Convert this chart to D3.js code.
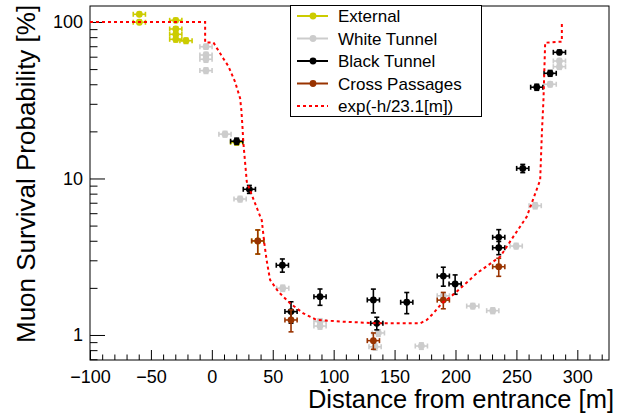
<!DOCTYPE html>
<html>
<head>
<meta charset="utf-8">
<script src="https://cdn.jsdelivr.net/npm/d3@7"></script>
<style>
  body { margin: 0; background: #fff; }
  text { font-family: "Liberation Sans", Arial, sans-serif; fill: #000; }
</style>
</head>
<body>
<div id="chart"></div>
<script>
(function(){
  // Distance [m], survival probability [%], vertical error [%]
  const externalDist = [-59.5, -59.5, -29.6, -29.6, -29.6, -29.6, -21.2, 20.4, 37.7];
  const externalProb = [112, 99.6, 102.5, 90.2, 83.4, 77.5, 75.9, 17.0, 3.99];
  const externalErr  = [3, 3, 3, 3, 3, 3, 3, 0.6, 0.7];

  const whiteDist = [-4.8, -4.8, -4.8, -4.8, 10.8, 23.2, 58.2, 88.8, 88.8, 136.7, 134, 172, 190, 214.2, 230.6, 249.8, 265.4, 277.7, 285.3, 285.3];
  const whiteProb = [69.5, 61.5, 57.8, 48.9, 19.2, 7.39, 1.99, 1.22, 1.14, 1.03, 0.84, 0.85, 1.78, 1.53, 1.43, 3.70, 6.70, 40, 56.3, 51.8];
  const whiteErr  = [2.5, 2.5, 2.5, 2, 0.8, 0.3, 0.09, 0.05, 0.05, 0.05, 0.04, 0.04, 0.08, 0.06, 0.06, 0.15, 0.3, 1.5, 2, 2];

  const blackDist = [20.4, 30.8, 57.9, 65, 88.8, 132.6, 135.4, 160, 190, 199.7, 235.5, 235.5, 255.2, 266.7, 277.7, 285.3];
  const blackProb = [17.3, 8.53, 2.79, 1.41, 1.757, 1.674, 1.188, 1.618, 2.38, 2.12, 4.21, 3.61, 11.6, 38.3, 47, 64];
  const blackErr  = [0.8, 0.5, 0.27, 0.22, 0.21, 0.29, 0.11, 0.25, 0.33, 0.3, 0.5, 0.35, 0.7, 1.7, 2, 2];

  const crossDist = [37.7, 65, 132.6, 190, 235.5];
  const crossProb = [3.99, 1.247, 0.92, 1.67, 2.73];
  const crossErr  = [0.7, 0.2, 0.11, 0.2, 0.36];

  const distErr = 5;

  // exp(-h/23.1[m]) along the tunnel
  const expDist = [-100, -5.5, -5.5, 1.3, 4, 9.4, 13.5, 19, 23.2, 24.3, 25.2, 25.9, 28.7, 35.5, 41, 43, 45, 47.8, 54.6, 64.2, 75.1, 86.1, 108, 135.4, 171, 176.4, 181.9, 188.8, 199.7, 217.5, 236.6, 247.5, 258.5, 269.5, 270.9, 272.2, 273.6, 287.3, 287.3];
  const expProb = [100, 100, 74, 74, 68.3, 58.5, 52.3, 41.6, 32.6, 27, 21, 16.8, 9.53, 6.93, 5.4, 3.9, 3.0, 2.25, 1.89, 1.594, 1.376, 1.247, 1.216, 1.188, 1.188, 1.247, 1.376, 1.594, 1.85, 2.48, 3.16, 4.25, 5.70, 9.78, 19.5, 31.7, 73.7, 74.9, 100];

  const xTicks = [-100, -50, 0, 50, 100, 150, 200, 250, 300];
  const yTicks = [1, 10, 100];

  const series = [
    { name: "White Tunnel", color: "#cccccc", dist: whiteDist, prob: whiteProb, err: whiteErr },
    { name: "External", color: "#cccc00", dist: externalDist, prob: externalProb, err: externalErr },
    { name: "Black Tunnel", color: "#000000", dist: blackDist, prob: blackProb, err: blackErr },
    { name: "Cross Passages", color: "#993300", dist: crossDist, prob: crossProb, err: crossErr }
  ];
  const legendOrder = ["External", "White Tunnel", "Black Tunnel", "Cross Passages"];

  const W = 628, H = 418;
  const frame = { left: 90, right: 609, top: 6, bottom: 360 };

  const svg = d3.select("#chart")
    .append("svg")
    .attr("width", W)
    .attr("height", H);

  const x = d3.scaleLinear().domain([-100, 326]).range([frame.left, frame.right]);
  const y = d3.scaleLog().domain([0.692, 126.5]).range([frame.bottom, frame.top]);

  // minor ticks
  const xMinor = d3.range(-100, 330, 10).filter(v => v % 50 !== 0);
  const yMinor = [0.7, 0.8, 0.9, 2, 3, 4, 5, 6, 7, 8, 9, 20, 30, 40, 50, 60, 70, 80, 90];

  svg.append("g")
    .attr("transform", `translate(0,${frame.bottom})`)
    .call(d3.axisBottom(x).tickValues(xTicks).tickSize(-10).tickPadding(10)
      .tickFormat(d => d < 0 ? "\u2212" + Math.abs(d) : d));
  svg.append("g")
    .attr("transform", `translate(0,${frame.bottom})`)
    .call(d3.axisBottom(x).tickValues(xMinor).tickSize(-5.5).tickFormat(""));

  svg.append("g")
    .attr("transform", `translate(${frame.left},0)`)
    .call(d3.axisLeft(y).tickValues(yTicks).tickSize(-15).tickPadding(7)
      .tickFormat(d3.format("d")));
  svg.append("g")
    .attr("transform", `translate(${frame.left},0)`)
    .call(d3.axisLeft(y).tickValues(yMinor).tickSize(-7.5).tickFormat(""));

  svg.selectAll(".domain").remove();
  svg.selectAll(".tick line").attr("stroke", "#000");
  svg.selectAll(".tick text").style("font-size", "18px");

  svg.append("rect")
    .attr("x", frame.left)
    .attr("y", frame.top)
    .attr("width", frame.right - frame.left)
    .attr("height", frame.bottom - frame.top)
    .attr("fill", "none")
    .attr("stroke", "#000")
    .attr("stroke-width", 1);

  // points with error bars
  const cap = 2.5;
  series.forEach(s => {
    const pts = s.dist.map((d, i) => ({ d: d, p: s.prob[i], e: s.err[i] }));
    const g = svg.append("g").attr("stroke", s.color).attr("fill", s.color).attr("stroke-width", 1.6);
    pts.forEach(pt => {
      const cx = x(pt.d), cy = y(pt.p);
      const x0 = x(pt.d - distErr), x1 = x(pt.d + distErr);
      const y0 = y(pt.p - pt.e), y1 = y(pt.p + pt.e);
      g.append("line").attr("x1", x0).attr("x2", x1).attr("y1", cy).attr("y2", cy);
      g.append("line").attr("x1", cx).attr("x2", cx).attr("y1", y0).attr("y2", y1);
      g.append("line").attr("x1", x0).attr("x2", x0).attr("y1", cy - cap).attr("y2", cy + cap);
      g.append("line").attr("x1", x1).attr("x2", x1).attr("y1", cy - cap).attr("y2", cy + cap);
      g.append("line").attr("x1", cx - cap).attr("x2", cx + cap).attr("y1", y0).attr("y2", y0);
      g.append("line").attr("x1", cx - cap).attr("x2", cx + cap).attr("y1", y1).attr("y2", y1);
      g.append("circle").attr("cx", cx).attr("cy", cy).attr("r", 3.4).attr("stroke", "none");
    });
  });

  // exponential curve
  const line = d3.line().x(d => x(d[0])).y(d => y(d[1]));
  svg.append("path")
    .datum(expDist.map((d, i) => [d, expProb[i]]))
    .attr("d", line)
    .attr("fill", "none")
    .attr("stroke", "#ff0000")
    .attr("stroke-width", 2)
    .attr("stroke-dasharray", "3,3");

  // legend
  const leg = svg.append("g");
  leg.append("rect")
    .attr("x", 290.5).attr("y", 5.5)
    .attr("width", 191).attr("height", 111)
    .attr("fill", "#fff").attr("stroke", "#000").attr("stroke-width", 1);

  const legY = [16, 38.5, 61, 83.5, 106];
  legendOrder.forEach((name, i) => {
    const s = series.find(t => t.name === name);
    leg.append("line")
      .attr("x1", 297).attr("x2", 328).attr("y1", legY[i]).attr("y2", legY[i])
      .attr("stroke", s.color).attr("stroke-width", 2);
    leg.append("circle")
      .attr("cx", 313).attr("cy", legY[i]).attr("r", 3.4).attr("fill", s.color);
    leg.append("text")
      .attr("x", 338).attr("y", legY[i]).attr("dy", "0.36em")
      .style("font-size", "17px").text(name);
  });
  leg.append("line")
    .attr("x1", 297).attr("x2", 328).attr("y1", legY[4]).attr("y2", legY[4])
    .attr("stroke", "#ff0000").attr("stroke-width", 2).attr("stroke-dasharray", "3,3");
  leg.append("text")
    .attr("x", 338).attr("y", legY[4]).attr("dy", "0.36em")
    .style("font-size", "17px").text("exp(-h/23.1[m])");

  // axis titles
  svg.append("text")
    .attr("x", 614)
    .attr("y", 408)
    .attr("text-anchor", "end")
    .style("font-size", "25.5px")
    .text("Distance from entrance [m]");

  svg.append("text")
    .attr("transform", "translate(34.5,343) rotate(-90)")
    .attr("text-anchor", "start")
    .style("font-size", "26px")
    .text("Muon Survival Probability [%]");
})();
</script>
</body>
</html>
